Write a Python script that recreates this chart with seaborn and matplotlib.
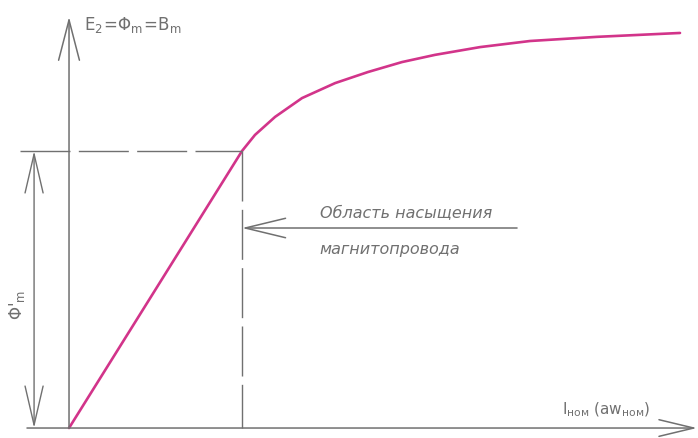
import numpy as np
import pandas as pd
import matplotlib
matplotlib.use("Agg")
import matplotlib.pyplot as plt
import seaborn as sns

# --- данные кривой намагничивания (в долях от колена: I/Iном, Ф/Ф'm) ---
current = [0.0, 1.0, 1.075, 1.191, 1.347, 1.538, 1.728, 1.925, 2.116,
           2.376, 2.665, 3.052, 3.532]
flux = [0.0, 1.0, 1.058, 1.123, 1.191, 1.245, 1.285, 1.321, 1.347,
        1.375, 1.397, 1.412, 1.426]
knee_i = 1.0
knee_flux = 1.0

y_label = r"$\mathregular{E_2\!=\!\Phi_m\!=\!B_m}$"
x_label = r"$\mathregular{I_{ном}\ (aw_{ном})}$"
dim_label = r"Φ'$\mathregular{_m}$"
note_lines = ["Область насыщения", "магнитопровода"]

sns.set_theme(style="white")
plt.rcParams["font.family"] = ["DejaVu Sans"]
plt.rcParams["mathtext.fontset"] = "custom"
plt.rcParams["mathtext.rm"] = "DejaVu Sans"
plt.rcParams["mathtext.it"] = "DejaVu Sans:italic"

GRAY = "#707070"
CURVE = "#d2348a"

fig = plt.figure(figsize=(6.98, 4.38), dpi=100)
ax = fig.add_axes([0, 0, 1, 1])
ax.set_xlim(-0.399, 3.636)
ax.set_ylim(-0.036, 1.545)
ax.set_axis_off()

df = pd.DataFrame({"I": current, "F": flux})
sns.lineplot(data=df, x="I", y="F", sort=False, estimator=None,
             color=CURVE, linewidth=1.9, ax=ax)

def arrow(x0, y0, x1, y1, hl=28, hw=6.5, lw=1.1):
    ax.annotate("", xy=(x1, y1), xytext=(x0, y0),
                arrowprops=dict(arrowstyle=f"->,head_length={hl},head_width={hw}",
                                mutation_scale=1, color=GRAY, lw=lw,
                                shrinkA=0, shrinkB=0))

# оси
arrow(0, 0, 0, 1.484, hl=29, hw=7.5)
arrow(-0.243, 0, 3.63, 0, hl=25, hw=6)

# пунктир до колена
dash = (0, (36, 6))
ax.plot([-0.283, knee_i], [knee_flux, knee_flux], color=GRAY, lw=1.0, linestyle=dash)
ax.plot([knee_i, knee_i], [knee_flux, 0], color=GRAY, lw=1.0, linestyle=dash)

# размерная линия Ф'm
ax.annotate("", xy=(-0.202, knee_flux), xytext=(-0.202, 0),
            arrowprops=dict(arrowstyle="<->,head_length=28,head_width=6.5",
                            mutation_scale=1, color=GRAY, lw=1.0,
                            shrinkA=0, shrinkB=0))
ax.text(-0.30, 0.444, dim_label, rotation=90, ha="center", va="center",
        fontsize=12, color=GRAY)

# выноска
arrow(2.59, 0.722, knee_i, 0.722, hl=29, hw=7)
ax.text(1.45, 0.745, note_lines[0], ha="left", va="bottom", fontsize=11.5,
        color=GRAY, style="italic")
ax.text(1.45, 0.643, note_lines[1], ha="left", va="center", fontsize=11.5,
        color=GRAY, style="italic")

# подписи осей
ax.text(0.087, 1.455, y_label, ha="left", va="center", fontsize=12, color=GRAY)
ax.text(2.85, 0.065, x_label, ha="left", va="center", fontsize=11, color=GRAY)

fig.savefig("out.png", dpi=100)
